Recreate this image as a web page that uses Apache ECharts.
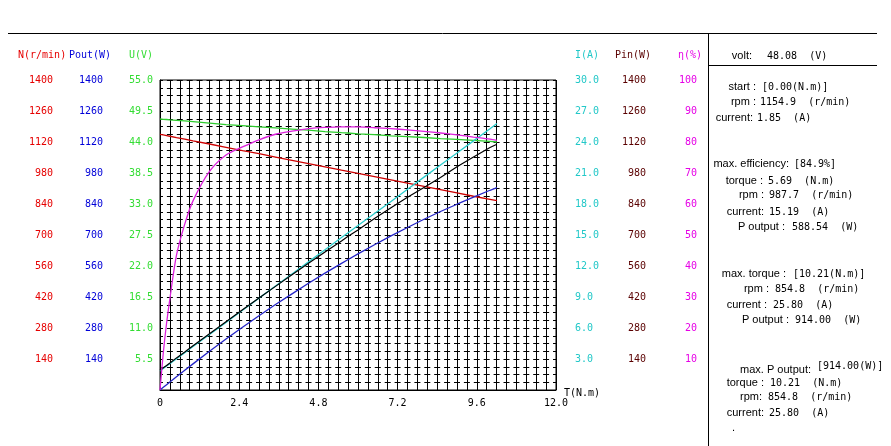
<!DOCTYPE html>
<html>
<head>
<meta charset="utf-8">
<script src="https://cdn.jsdelivr.net/npm/echarts@6/dist/echarts.min.js"></script>
<style>
  html, body { margin: 0; padding: 0; background: #fff; }
  #chart { width: 891px; height: 446px; }
</style>
</head>
<body>
<div id="chart"></div>
<script>
// motor test curves
const torque  = [0, 0.1, 0.2, 0.3, 0.5, 0.75, 1, 1.5, 2, 2.5, 3, 3.5, 4, 4.5, 5, 5.5, 5.69, 6, 6.5, 7, 7.5, 8, 8.5, 9, 9.5, 10, 10.21];
const speed   = [1154.9, 1152, 1149, 1146, 1140, 1133, 1125, 1111, 1096, 1081, 1067, 1052, 1037, 1022, 1008, 993, 987.7, 978, 964, 949, 934, 920, 905, 890, 875, 861, 854.8];
const current = [1.85, 2.08, 2.32, 2.55, 3.02, 3.61, 4.2, 5.37, 6.54, 7.72, 8.89, 10.06, 11.23, 12.4, 13.58, 14.75, 15.19, 15.91, 17.08, 18.25, 19.42, 20.6, 21.77, 22.94, 24.11, 25.28, 25.8];
const voltage = [48.08, 48.03, 47.99, 47.94, 47.85, 47.73, 47.6, 47.35, 47.1, 46.9, 46.7, 46.5, 46.3, 46.1, 45.85, 45.65, 45.6, 45.45, 45.3, 45.1, 44.95, 44.8, 44.6, 44.45, 44.3, 44.1, 44.0];
const powerIn = [89, 100, 111, 122, 145, 172, 200, 254, 308, 362, 415, 468, 520, 572, 623, 673, 693, 723, 774, 823, 870, 915, 960, 1008, 1052, 1095, 1110];
const powerOut = [0, 12, 24, 36, 60, 89, 118, 175, 230, 283, 335, 386, 434, 482, 528, 572, 588.5, 615, 656, 696, 734, 771, 806, 839, 871, 902, 914];
const efficiency = [0, 12, 21.6, 29.5, 43.5, 53.5, 61, 70.5, 75.8, 78.4, 80.7, 82.5, 83.5, 84.3, 84.7, 84.88, 84.9, 84.85, 84.6, 84.3, 83.9, 83.4, 82.9, 82.3, 81.6, 80.9, 80.5];

const axisTitles = ['N(r/min)', 'Pout(W)', 'U(V)', 'I(A)', 'Pin(W)', 'η(%)'];

const summary = [
  ['volt:', '48.08  (V)'],
  ['start :', '[0.00(N.m)]'],
  ['rpm :', '1154.9  (r/min)'],
  ['current:', '1.85  (A)'],
  ['max. efficiency:', '[84.9%]'],
  ['torque :', '5.69  (N.m)'],
  ['rpm :', '987.7  (r/min)'],
  ['current:', '15.19  (A)'],
  ['P output :', '588.54  (W)'],
  ['max. torque :', '[10.21(N.m)]'],
  ['rpm :', '854.8  (r/min)'],
  ['current :', '25.80  (A)'],
  ['P output :', '914.00  (W)'],
  ['max. P output:', '[914.00(W)]'],
  ['torque :', '10.21  (N.m)'],
  ['rpm:', '854.8  (r/min)'],
  ['current:', '25.80  (A)'],
  ['.', '']
];

// layout of the summary panel: [label right edge x, value x, label y, value y]
const summaryPos = [
  [752, 767, 56, 56],
  [756, 762, 87, 87],
  [756, 760, 102, 102],
  [753, 757, 118, 118],
  [789, 794, 164, 164],
  [763, 768, 181, 181],
  [764, 769, 195, 195],
  [764, 769, 212, 212],
  [785, 792, 227, 227],
  [786, 793, 274, 274],
  [769, 775, 289, 289],
  [767, 773, 305, 305],
  [789, 795, 320, 320],
  [811, 817, 370, 366],
  [764, 770, 383, 383],
  [762, 768, 397, 397],
  [764, 769, 413, 413],
  [735, 0, 428, 428]
];
const titlePos = [[18, 55], [69, 55], [129, 55], [575, 55], [615, 55], [678, 55]];

const numFont = 'DejaVu Sans Mono';
const colors = {
  speed: '#cc0000', pout: '#2626c8', volt: '#2ecc2e',
  cur: '#2ccccc', pin: '#000000', eff: '#dd22dd'
};
const labelColors = ['#e60000', '#0000d8', '#33dd33', '#22c8c8', '#5a0000', '#e600e6'];

function pairs(ys) {
  return torque.map((t, i) => [t, ys[i]]);
}

function sideAxis(max, interval, pos, offset, color, fmt, align) {
  return {
    type: 'value', min: 0, max: max, interval: interval,
    position: pos, offset: offset,
    axisLine: { show: false }, axisTick: { show: false }, splitLine: { show: false },
    axisLabel: {
      color: color, fontFamily: numFont, fontSize: 10, margin: pos === 'left' ? 7 : 8,
      align: align, showMinLabel: false,
      formatter: v => (v === 0 ? '' : fmt(v))
    }
  };
}

const chart = echarts.init(document.getElementById('chart'));

const graphics = [
  { type: 'line', shape: { x1: 8, y1: 33.5, x2: 877, y2: 33.5 }, style: { stroke: '#000', lineWidth: 1 } },
  { type: 'line', shape: { x1: 708.5, y1: 33, x2: 708.5, y2: 446 }, style: { stroke: '#000', lineWidth: 1 } },
  { type: 'line', shape: { x1: 708, y1: 65.5, x2: 877, y2: 65.5 }, style: { stroke: '#000', lineWidth: 1 } }
];
axisTitles.forEach((t, i) => {
  graphics.push({
    type: 'text', x: titlePos[i][0], y: titlePos[i][1],
    style: { text: t, fill: labelColors[i], font: '10px "' + numFont + '"', textVerticalAlign: 'middle' }
  });
});
summary.forEach((row, i) => {
  const p = summaryPos[i];
  graphics.push({
    type: 'text', x: p[0], y: p[2],
    style: { text: row[0], fill: '#000', font: '11px "Liberation Sans"', textAlign: 'right', textVerticalAlign: 'middle' }
  });
  if (row[1]) {
    graphics.push({
      type: 'text', x: p[1], y: p[3],
      style: { text: row[1], fill: '#000', font: '10px "' + numFont + '"', textVerticalAlign: 'middle' }
    });
  }
});

chart.setOption({
  animation: false,
  backgroundColor: '#fff',
  grid: { left: 160, top: 80, width: 396, height: 310, show: true, borderColor: '#000', borderWidth: 1, backgroundColor: 'transparent' },
  xAxis: {
    type: 'value', min: 0, max: 12, interval: 2.4,
    axisLine: { show: true, lineStyle: { color: '#000' } },
    axisTick: { show: false },
    axisLabel: { color: '#000', fontFamily: numFont, fontSize: 10, margin: 8,
      formatter: v => (v === 0 ? '0' : v.toFixed(1)) },
    splitLine: { show: true, lineStyle: { color: '#000', width: 1 } },
    minorTick: { show: false, splitNumber: 8 },
    minorSplitLine: { show: true, lineStyle: { color: '#000', width: 1 } },
    name: 'T(N.m)', nameLocation: 'end', nameGap: 8,
    nameTextStyle: { color: '#000', fontFamily: numFont, fontSize: 10, verticalAlign: 'bottom', padding: [0, 0, -8, 0] }
  },
  yAxis: [
    {
      type: 'value', min: 0, max: 55, interval: 5.5, position: 'left',
      axisLine: { show: true, lineStyle: { color: '#000' } }, axisTick: { show: false },
      axisLabel: { color: labelColors[2], fontFamily: numFont, fontSize: 10, margin: 7, showMinLabel: false,
        formatter: v => (v === 0 ? '' : v.toFixed(1)) },
      splitLine: { show: true, lineStyle: { color: '#000', width: 1, type: [6, 3.9], dashOffset: 3 } },
      minorTick: { show: false, splitNumber: 4 },
      minorSplitLine: { show: true, lineStyle: { color: '#000', width: 1, type: [6, 3.9], dashOffset: 3 } }
    },
    sideAxis(1400, 140, 'left', 50, labelColors[1], v => String(v)),
    sideAxis(1400, 140, 'left', 100, labelColors[0], v => String(v)),
    sideAxis(30, 3, 'right', 11, labelColors[3], v => v.toFixed(1), 'left'),
    sideAxis(1400, 140, 'right', 82, labelColors[4], v => String(v), 'right'),
    sideAxis(100, 10, 'right', 133, labelColors[5], v => String(v), 'right')
  ],
  series: [
    { name: 'U', type: 'line', yAxisIndex: 0, data: pairs(voltage), showSymbol: false,
      lineStyle: { color: colors.volt, width: 1.3 } },
    { name: 'N', type: 'line', yAxisIndex: 2, data: pairs(speed), showSymbol: false,
      lineStyle: { color: colors.speed, width: 1.3 } },
    { name: 'I', type: 'line', yAxisIndex: 3, data: pairs(current), showSymbol: false,
      lineStyle: { color: colors.cur, width: 1.3 } },
    { name: 'Pin', type: 'line', yAxisIndex: 4, data: pairs(powerIn), showSymbol: false,
      lineStyle: { color: colors.pin, width: 1.2 } },
    { name: 'Pout', type: 'line', yAxisIndex: 1, data: pairs(powerOut), showSymbol: false,
      lineStyle: { color: colors.pout, width: 1.3 } },
    { name: 'eff', type: 'line', yAxisIndex: 5, data: pairs(efficiency), showSymbol: false, smooth: 0.3,
      lineStyle: { color: colors.eff, width: 1.3 } }
  ],
  graphic: graphics
});
</script>
</body>
</html>
